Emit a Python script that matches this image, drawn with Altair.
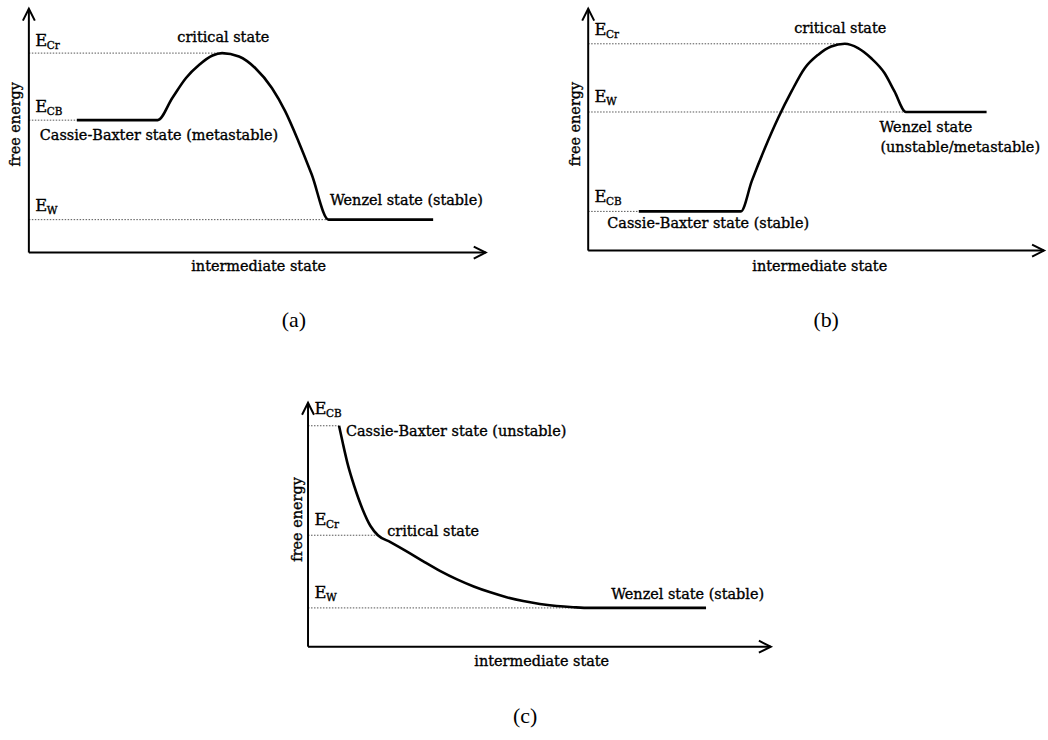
import altair as alt
import pandas as pd

FONT = "DejaVu Serif"
CAP_FONT = "Liberation Serif"
TXT = 14.5
HEAVY = dict(stroke="black", strokeWidth=0.35)

# ---------------- data (axis units: both axes run 0..100 to the arrow tips) -------------
# Panel (a)
a_curve_x = [10.5, 28.2, 31.4, 34.4, 37.3, 40.2, 42.3, 46.0, 49.6, 53.2, 56.1, 59.0, 61.9, 65.6, 88.5]
a_curve_y = [54.3, 54.3, 63.4, 71.6, 77.0, 80.8, 81.8, 80.4, 75.6, 67.5, 58.0, 45.7, 32.1, 13.5, 13.5]
a_level_sub = ["Cr", "CB", "W"]
a_level_y = [81.8, 54.3, 13.5]
a_level_end = [42.3, 10.5, 65.6]
a_level_label_y = [86.9, 59.6, 19.0]
a_state_text = ["critical state", "Cassie-Baxter state (metastable)", "Wenzel state (stable)"]
a_state_x = [32.5, 2.4, 65.9]
a_state_y = [87.9, 47.8, 21.2]

# Panel (b)
b_curve_x = [11.1, 33.5, 35.9, 38.8, 41.7, 44.6, 47.5, 50.4, 53.3, 56.3, 59.2, 62.1, 65.0, 67.2, 69.7, 87.4]
b_curve_y = [16.2, 16.2, 28.8, 42.5, 54.9, 65.8, 75.4, 80.9, 84.4, 85.5, 83.7, 79.5, 73.4, 65.8, 57.3, 57.3]
b_level_sub = ["Cr", "W", "CB"]
b_level_y = [85.5, 57.3, 16.2]
b_level_end = [56.3, 69.7, 11.1]
b_level_label_y = [91.2, 63.4, 22.2]
b_state_text = ["critical state", "Wenzel state", "(unstable/metastable)", "Cassie-Baxter state (stable)"]
b_state_x = [45.2, 63.9, 64.1, 4.2]
b_state_y = [91.6, 50.7, 42.5, 11.0]

# Panel (c)
c_curve_x = [6.7, 7.5, 8.5, 10.0, 11.8, 13.5, 15.1, 17.8, 21.4, 25.0, 28.6, 32.2, 35.8,
             39.4, 42.9, 46.5, 50.1, 53.7, 57.3, 60.9, 86.0]
c_curve_y = [90.6, 83.6, 75.4, 65.8, 56.3, 49.5, 45.7, 42.9, 39.0, 34.9, 31.0, 27.6, 24.7,
             22.3, 20.3, 18.7, 17.5, 16.7, 16.2, 15.9, 15.9]
c_level_sub = ["CB", "Cr", "W"]
c_level_y = [90.6, 45.7, 15.9]
c_level_end = [6.7, 15.1, 60.9]
c_level_label_y = [97.6, 51.8, 22.0]
c_state_text = ["Cassie-Baxter state (unstable)", "critical state", "Wenzel state (stable)"]
c_state_x = [8.2, 17.1, 65.5]
c_state_y = [88.0, 47.1, 21.2]

x_title = "intermediate state"
y_title = "free energy"
captions = ["(a)", "(b)", "(c)"]
caption_pos = [(58.0, -27.8), (52.2, -28.8), (46.9, -28.6)]
axis_title_pos = [((50.3, -6.0), (-2.9, 52.6)),
                  ((50.8, -6.9), (-2.7, 52.3)),
                  ((50.5, -6.3), (-2.2, 52.2))]


def panel(W, H, ox, oy, tipx, tipy, cx, cy, lsub, ly, lend, lly, stext, sx, sy, cap, cpos, tpos):
    ux = (tipx - ox) / 100.0
    uy = (oy - tipy) / 100.0
    xs = alt.Scale(domain=[-ox / ux, (W - ox) / ux], nice=False, zero=False)
    ys = alt.Scale(domain=[-(H - oy) / uy, oy / uy], nice=False, zero=False)
    X = lambda f: alt.X(f, type="quantitative", scale=xs, axis=None)
    Y = lambda f: alt.Y(f, type="quantitative", scale=ys, axis=None)

    axes_df = pd.DataFrame({"x": [0, 0], "y": [0, 0], "x2": [100, 0], "y2": [0, 100]})
    axes = alt.Chart(axes_df).mark_rule(color="black", strokeWidth=2).encode(
        x=X("x"), y=Y("y"), x2="x2", y2="y2")

    head_r = alt.Chart(pd.DataFrame({"x": [100], "y": [0]})).mark_point(
        shape="M-2,-1L0,0L-2,1", size=144, filled=False, color="black", strokeWidth=2, opacity=1
    ).encode(x=X("x"), y=Y("y"))
    head_u = alt.Chart(pd.DataFrame({"x": [0], "y": [100]})).mark_point(
        shape="M-1,2L0,0L1,2", size=144, filled=False, color="black", strokeWidth=2, opacity=1
    ).encode(x=X("x"), y=Y("y"))

    lv = pd.DataFrame({"sub": lsub, "y": ly, "x0": [0] * len(ly), "x1": lend,
                       "ly": lly, "ex": [1.4] * len(ly)})
    dots = alt.Chart(lv).mark_rule(color="#555", strokeWidth=1, strokeDash=[1.5, 1.5]).encode(
        x=X("x0"), x2="x1", y=Y("y"))
    e_txt = alt.Chart(lv).mark_text(font=FONT, fontSize=16.5, align="left", baseline="middle",
                                    color="black", text="E", **HEAVY).encode(x=X("ex"), y=Y("ly"))
    e_sub = alt.Chart(lv).mark_text(font=FONT, fontSize=10.5, align="left", baseline="middle",
                                    color="black", dx=11.5, dy=5, **HEAVY).encode(
        x=X("ex"), y=Y("ly"), text="sub:N")

    cd = pd.DataFrame({"x": cx, "y": cy, "i": list(range(len(cx)))})
    curve = alt.Chart(cd).mark_line(color="black", strokeWidth=2.6, interpolate="monotone").encode(
        x=X("x"), y=Y("y"), order="i:Q")

    sd = pd.DataFrame({"t": stext, "x": sx, "y": sy})
    states = alt.Chart(sd).mark_text(font=FONT, fontSize=TXT, align="left", baseline="middle",
                                     color="black", **HEAVY).encode(x=X("x"), y=Y("y"), text="t:N")

    (xtx, xty), (ytx, yty) = tpos
    xt = alt.Chart(pd.DataFrame({"t": [x_title], "x": [xtx], "y": [xty]})).mark_text(
        font=FONT, fontSize=TXT, align="center", baseline="middle", color="black", **HEAVY).encode(
        x=X("x"), y=Y("y"), text="t:N")
    yt = alt.Chart(pd.DataFrame({"t": [y_title], "x": [ytx], "y": [yty]})).mark_text(
        font=FONT, fontSize=TXT, align="center", baseline="middle", angle=270, color="black",
        **HEAVY).encode(x=X("x"), y=Y("y"), text="t:N")
    cp = alt.Chart(pd.DataFrame({"t": [cap], "x": [cpos[0]], "y": [cpos[1]]})).mark_text(
        font=CAP_FONT, fontSize=22, align="center", baseline="middle", color="black").encode(
        x=X("x"), y=Y("y"), text="t:N")

    return alt.layer(dots, curve, axes, head_r, head_u, e_txt, e_sub, states, xt, yt, cp).properties(
        width=W, height=H)


pa = panel(490, 335, 29, 252, 488, 7, a_curve_x, a_curve_y, a_level_sub, a_level_y, a_level_end,
           a_level_label_y, a_state_text, a_state_x, a_state_y, captions[0], caption_pos[0], axis_title_pos[0])
pb = panel(488, 335, 29, 250, 487, 7, b_curve_x, b_curve_y, b_level_sub, b_level_y, b_level_end,
           b_level_label_y, b_state_text, b_state_x, b_state_y, captions[1], caption_pos[1], axis_title_pos[1])
pc = panel(508, 345, 37, 253, 502, 8, c_curve_x, c_curve_y, c_level_sub, c_level_y, c_level_end,
           c_level_label_y, c_state_text, c_state_x, c_state_y, captions[2], caption_pos[2], axis_title_pos[2])

top = alt.hconcat(pa, pb, spacing=70)
chart = alt.vconcat(top, pc, spacing=60, center=True).properties(
    padding=0, background="white"
).configure_view(stroke=None)

chart.save("out.html", embed_options={"renderer": "svg", "actions": False})
